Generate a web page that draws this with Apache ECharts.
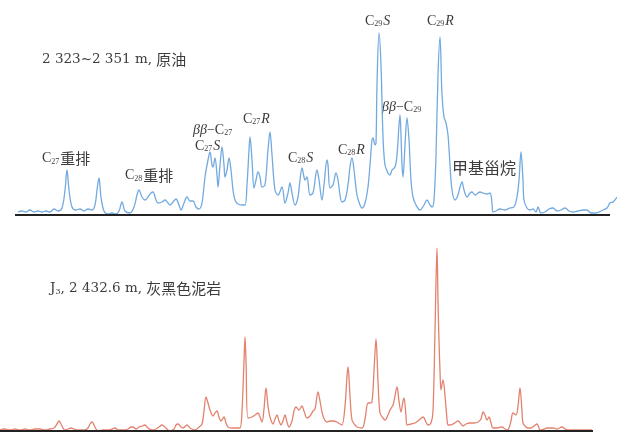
<!DOCTYPE html>
<html>
<head>
<meta charset="utf-8">
<script src="https://cdn.jsdelivr.net/npm/echarts@6/dist/echarts.min.js"></script>
<style>
  html, body { margin: 0; padding: 0; background: #fff; }
  #chart { width: 617px; height: 434px; }
</style>
</head>
<body>
<div id="chart"></div>
<script>
// 原油 (2 323~2 351 m) m/z 217 trace: retention position / abundance
var oilRt = [18, 22, 26, 30, 34, 38, 42, 46, 50, 54, 58, 62, 65, 67, 69, 72, 76, 80, 84, 88, 92, 95, 97, 99, 101, 104, 108, 112, 116, 119,
  122, 125, 130, 134, 137, 139, 142, 145, 148, 151, 153, 156, 158, 162, 165, 168, 170, 173, 176, 179, 181, 184, 187, 190, 193, 196, 199, 202, 205, 208,
  210, 212, 213, 215, 217, 218, 220, 222, 224, 225, 227, 229, 231, 233, 235, 238, 242, 245, 247, 249, 250, 252, 254, 256, 258, 260, 262, 265, 268, 270,
  272, 275, 278, 282, 285, 288, 290, 292, 295, 298, 300, 302, 304, 305, 307, 310, 313, 317, 319, 322, 324, 327, 328, 330, 333, 336, 338, 340, 342, 345,
  348, 350, 352, 354, 357, 360, 362, 365, 368, 370, 372, 373, 375, 376, 377, 379, 381, 383, 385, 388, 390, 392, 395, 397, 399, 400, 401, 402, 403, 405,
  407, 409, 411, 413, 416, 420, 424, 427, 430, 432, 434, 436, 438, 440, 442, 444, 446, 448, 450, 452, 455, 458, 460, 462, 464, 467, 470, 472, 475, 478,
  480, 483, 487, 490, 492, 493, 496, 500, 505, 510, 514, 517, 519, 521, 523, 524, 527, 530, 533, 536, 538, 541, 545, 549, 553, 557, 561, 565, 569, 573,
  578, 583, 587, 591, 595, 599, 603, 607, 610, 613, 617];
var oilAbund = [3, 4, 3, 5, 3, 4, 3, 4, 3, 6, 4, 7, 25, 45, 25, 8, 5, 6, 4, 6, 5, 10, 25, 37, 18, 4, 1, 2, 1, 4,
  13, 4, 2, 8, 20, 25, 18, 15, 18, 22, 23, 15, 12, 13, 15, 12, 10, 13, 16, 10, 5, 12, 18, 14, 14, 8, 6, 12, 38, 55,
  63, 50, 48, 57, 40, 28, 50, 68, 50, 38, 45, 57, 45, 25, 15, 11, 10, 10, 30, 65, 78, 55, 27, 35, 43, 38, 28, 30, 65, 83,
  60, 25, 20, 28, 12, 22, 32, 22, 10, 18, 35, 47, 38, 35, 38, 20, 22, 45, 35, 15, 30, 55, 50, 27, 30, 42, 35, 20, 13, 15,
  30, 48, 57, 45, 20, 10, 7, 12, 28, 50, 75, 77, 70, 72, 130, 182, 150, 78, 50, 42, 40, 45, 48, 60, 90, 100, 80, 50, 38, 70,
  97, 75, 35, 18, 10, 5, 10, 15, 10, 8, 15, 60, 140, 178, 120, 98, 92, 80, 50, 25, 15, 20, 28, 33, 25, 18, 22, 23, 20, 22,
  23, 22, 21, 22, 12, 3, 4, 6, 5, 7, 8, 18, 35, 63, 35, 15, 7, 5, 6, 3, 8, 2, 3, 6, 7, 4, 5, 7, 4, 3,
  4, 5, 5, 2, 2, 3, 5, 7, 12, 13, 18];

// J3, 2 432.6 m 灰黑色泥岩 trace
var rockRt = [0, 5, 10, 15, 20, 25, 30, 35, 40, 45, 50, 54, 57, 59, 61, 63, 65, 68, 71, 74, 77, 81, 85, 88, 90, 92, 94, 96, 98, 103,
  108, 112, 115, 118, 123, 128, 131, 133, 136, 139, 142, 145, 148, 152, 156, 159, 162, 165, 168, 170, 174, 176, 178, 181, 183, 187, 190, 195, 199, 202,
  204, 206, 208, 210, 213, 215, 217, 219, 221, 224, 226, 228, 232, 237, 240, 242, 244, 245, 246, 248, 252, 255, 258, 260, 262, 264, 266, 268, 270, 273,
  275, 277, 279, 281, 283, 285, 287, 289, 292, 294, 296, 299, 302, 304, 307, 310, 313, 315, 318, 320, 323, 327, 330, 333, 337, 340, 342, 345, 347, 348,
  350, 352, 355, 357, 362, 365, 368, 370, 372, 374, 376, 378, 380, 383, 385, 388, 390, 393, 395, 397, 399, 401, 403, 404, 406, 407, 411, 415, 419, 423,
  426, 428, 431, 433, 435, 437, 438, 439, 440, 441, 443, 445, 447, 448, 450, 453, 456, 458, 461, 463, 466, 470, 474, 478, 481, 483, 485, 487, 489, 491,
  493, 497, 502, 505, 507, 509, 511, 513, 516, 518, 520, 522, 523, 526, 528, 531, 534, 537, 539, 540, 544, 547, 550, 553, 557, 562, 565, 568, 573, 578,
  583, 588, 592];
var rockAbund = [1, 2, 1, 2, 1, 2, 1, 2, 2, 1, 2, 3, 7, 10, 7, 3, 1, 2, 3, 2, 1, 1, 1, 3, 7, 9, 6, 2, 0, 1,
  1, 2, 3, 1, 1, 2, 4, 4, 2, 4, 5, 6, 3, 1, 2, 4, 6, 4, 1, 0, 2, 6, 7, 4, 3, 6, 3, 1, 4, 7,
  20, 34, 28, 21, 15, 18, 20, 14, 10, 14, 8, 4, 3, 3, 3, 20, 70, 94, 70, 13, 14, 16, 18, 14, 9, 22, 43, 25, 14, 7,
  12, 16, 10, 6, 10, 16, 9, 4, 10, 20, 24, 21, 25, 20, 13, 15, 20, 22, 39, 30, 15, 9, 10, 10, 9, 7, 6, 25, 55, 64,
  35, 11, 6, 4, 3, 12, 28, 28, 29, 60, 92, 50, 18, 13, 11, 16, 21, 26, 35, 44, 30, 19, 30, 33, 15, 6, 7, 8, 11, 14,
  9, 6, 8, 20, 100, 183, 130, 90, 60, 41, 51, 35, 12, 6, 6, 7, 9, 10, 7, 5, 7, 8, 8, 9, 12, 19, 16, 11, 14, 8,
  3, 3, 4, 2, 1, 3, 10, 18, 16, 25, 43, 20, 8, 4, 3, 3, 5, 7, 3, 1, 2, 3, 3, 3, 2, 4, 2, 1, 1, 1,
  1, 1, 1];

var oilBase = [15, 610];
var rockBase = [0, 593];

function pairs(xs, ys) {
  var out = [];
  for (var i = 0; i < xs.length; i++) out.push([xs[i], ys[i]]);
  return out;
}

var serif = "'Liberation Serif', 'DejaVu Serif', 'Noto Sans CJK SC', serif";
var wide = "'DejaVu Serif', 'Liberation Serif', serif";
var cjk = "'Noto Sans CJK SC', sans-serif";
var rich = {
  a: { fontFamily: serif, fontSize: 14, color: '#3c3c3c' },
  i: { fontFamily: serif, fontSize: 14, fontStyle: 'italic', color: '#3c3c3c' },
  s: { fontFamily: serif, fontSize: 8, color: '#3c3c3c', verticalAlign: 'bottom', padding: [0, 1, 0, 0] },
  c: { fontFamily: cjk, fontSize: 15, color: '#3c3c3c' },
  m: { fontFamily: cjk, fontSize: 16, color: '#3c3c3c' },
  t: { fontFamily: wide, fontSize: 13.5, color: '#333' },
  ts: { fontFamily: wide, fontSize: 8, color: '#333', verticalAlign: 'bottom' },
  tc: { fontFamily: cjk, fontSize: 15, color: '#333' }
};

function lab(x, y, text) {
  return {
    type: 'text', left: x, top: y, silent: true,
    style: { text: text, rich: rich, fill: '#3c3c3c', font: '14px ' + serif }
  };
}

var chart = echarts.init(document.getElementById('chart'));
var axisOff = { show: false };

chart.setOption({
  animation: false,
  backgroundColor: '#fff',
  grid: [
    { left: 0, right: 0, top: 15, height: 200 },
    { left: 0, right: 0, top: 231, height: 200 }
  ],
  xAxis: [
    { type: 'value', gridIndex: 0, min: 0, max: 617, axisLine: axisOff, axisTick: axisOff, axisLabel: axisOff, splitLine: axisOff },
    { type: 'value', gridIndex: 1, min: 0, max: 617, axisLine: axisOff, axisTick: axisOff, axisLabel: axisOff, splitLine: axisOff }
  ],
  yAxis: [
    { type: 'value', gridIndex: 0, min: 0, max: 200, axisLine: axisOff, axisTick: axisOff, axisLabel: axisOff, splitLine: axisOff },
    { type: 'value', gridIndex: 1, min: 0, max: 200, axisLine: axisOff, axisTick: axisOff, axisLabel: axisOff, splitLine: axisOff }
  ],
  series: [
    {
      name: '原油', type: 'line', xAxisIndex: 0, yAxisIndex: 0,
      data: pairs(oilRt, oilAbund), showSymbol: false, smooth: 0.35,
      lineStyle: { color: '#72aae0', width: 1.3 },
      markLine: {
        silent: true, symbol: 'none', label: { show: false },
        lineStyle: { color: '#222', width: 2, type: 'solid' },
        data: [[{ coord: [oilBase[0], 0] }, { coord: [oilBase[1], 0] }]]
      },
      z: 3
    },
    {
      name: '灰黑色泥岩', type: 'line', xAxisIndex: 1, yAxisIndex: 1,
      data: pairs(rockRt, rockAbund), showSymbol: false, smooth: 0.35,
      lineStyle: { color: '#e3826f', width: 1.3 },
      markLine: {
        silent: true, symbol: 'none', label: { show: false },
        lineStyle: { color: '#222', width: 2, type: 'solid' },
        data: [[{ coord: [rockBase[0], 0] }, { coord: [rockBase[1], 0] }]]
      },
      z: 3
    }
  ],
  graphic: [
    lab(42, 52, '{t|2 323~2 351 m, }{tc|原油}'),
    lab(50, 281, '{t|J}{ts|3}{t|, 2 432.6 m, }{tc|灰黑色泥岩}'),
    lab(42, 151, '{a|C}{s|27}{c|重排}'),
    lab(125, 168, '{a|C}{s|28}{c|重排}'),
    lab(193, 123, '{i|ββ}{a|−C}{s|27}'),
    lab(195, 139, '{a|C}{s|27}{i|S}'),
    lab(243, 112, '{a|C}{s|27}{i|R}'),
    lab(288, 151, '{a|C}{s|28}{i|S}'),
    lab(338, 143, '{a|C}{s|28}{i|R}'),
    lab(365, 14, '{a|C}{s|29}{i|S}'),
    lab(427, 14, '{a|C}{s|29}{i|R}'),
    lab(382, 100, '{i|ββ}{a|−C}{s|29}'),
    lab(452, 160, '{m|甲基甾烷}')
  ]
});
</script>
</body>
</html>
